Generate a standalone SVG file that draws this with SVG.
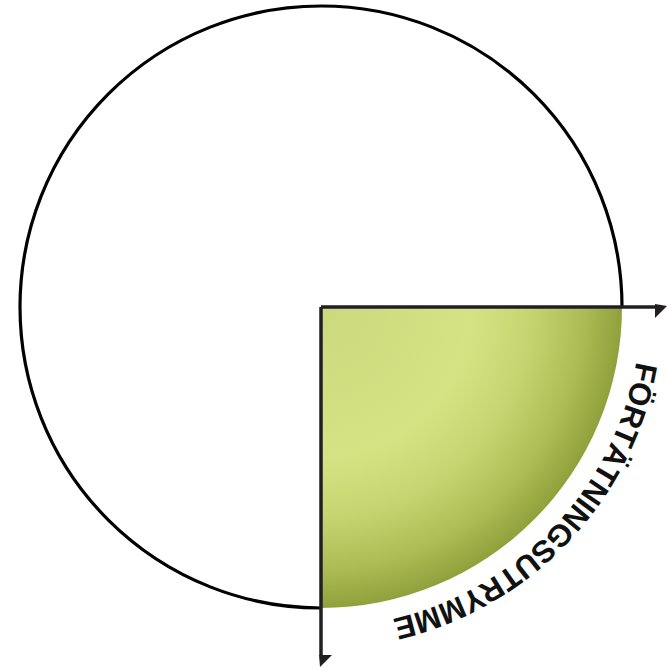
<svg xmlns="http://www.w3.org/2000/svg" width="667" height="667" viewBox="0 0 667 667">
  <style>
    .axis { stroke: #231f20; stroke-width: 3.5; fill: none; }
    .head { fill: #231f20; }
    .label { font-family: "Liberation Sans", Arial, sans-serif; font-weight: bold; font-size: 31px; fill: #111; }
  </style>
  <defs>
    <radialGradient id="greenGrad" gradientUnits="userSpaceOnUse" cx="321" cy="307" r="301" fx="321" fy="307">
      <stop offset="0" stop-color="#cbd97d"/>
      <stop offset="0.5" stop-color="#d5e384"/>
      <stop offset="0.7" stop-color="#c6d470"/>
      <stop offset="0.87" stop-color="#adbc54"/>
      <stop offset="1" stop-color="#90a03b"/>
    </radialGradient>
    <path id="arcText" d="M636.3,361.5 A320,320 0 0 1 391.9,619.0"/>
  </defs>
  <rect width="667" height="667" fill="#ffffff"/>
  <g id="sector">
    <path d="M321,307 H622 A301,301 0 0 1 321,608 Z" fill="url(#greenGrad)"/>
  </g>
  <g id="circle">
    <path d="M622,307 A301,301 0 1 0 321,608" fill="none" stroke="#000" stroke-width="3.2"/>
  </g>
  <g id="connectors">
    <path class="axis" d="M321,307 H657"/>
    <polygon class="head" points="655,304 667,306 655,318"/>
    <path class="axis" d="M321,307 V656"/>
    <polygon class="head" points="319,655 332,655 320,667"/>
  </g>
  <g id="label">
    <text class="label"><textPath href="#arcText" textLength="376" lengthAdjust="spacing">FÖRTÄTNINGSUTRYMME</textPath></text>
  </g>
</svg>
